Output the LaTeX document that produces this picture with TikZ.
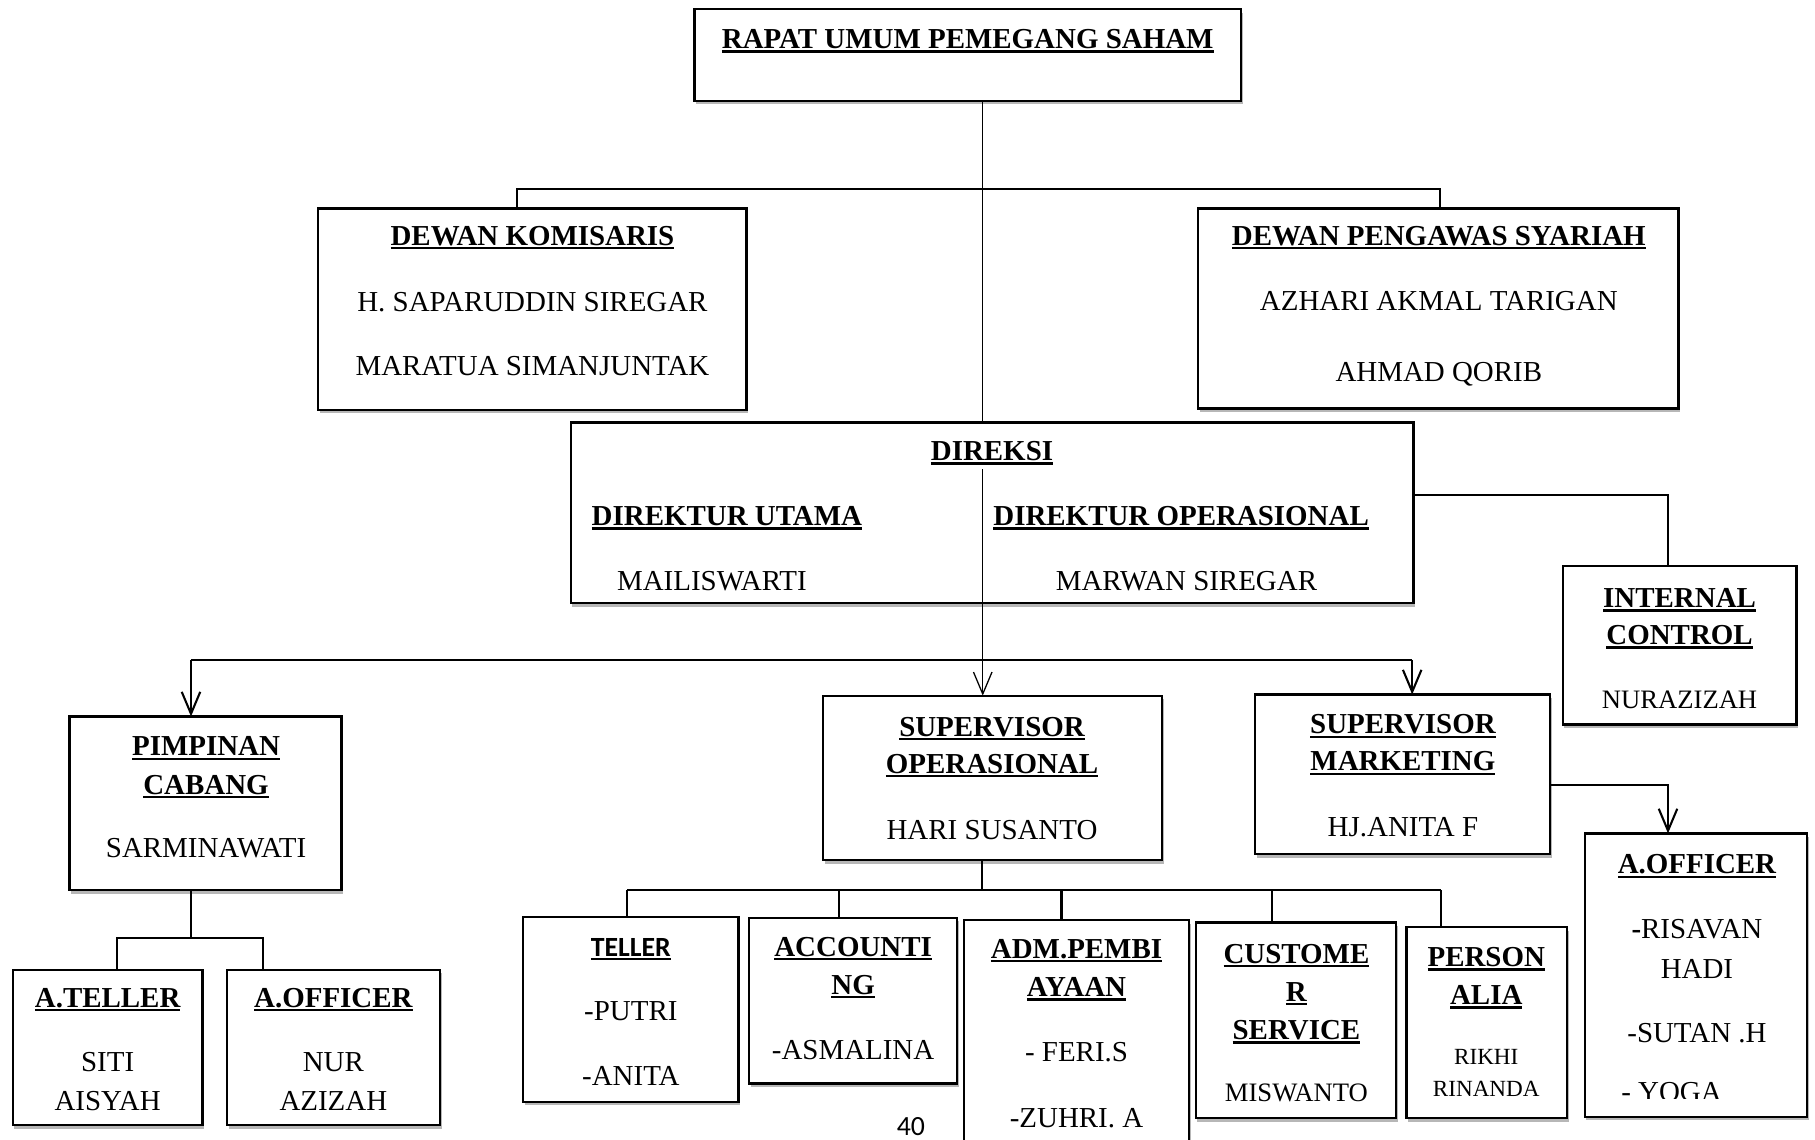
\documentclass[tikz,border=0pt]{standalone}
\usepackage{fontspec}
\setmainfont{Liberation Serif}
\newfontfamily\calfont{Carlito}
\usetikzlibrary{arrows.meta,shadows,calc}
\newcommand\uhd[1]{{\bfseries\setbox0\hbox{#1}\rlap{\rule[-0.14em]{\wd0}{0.08em}}\box0}}
\newcommand\orgbox[5]{\node[box, minimum width={#4-#2}, minimum height={#5-#3}] (#1) at (#2,#3) {};}
\tikzset{
  box/.style={draw, line width=2pt, fill=white, anchor=north west, inner sep=0pt, outer sep=0pt,
    drop shadow={shadow xshift=1.5pt, shadow yshift=-3pt, opacity=0.4, fill=black!70}},
  t/.style={anchor=base, inner sep=0pt, font=\fontsize{25}{30}\selectfont},
  tm/.style={anchor=base, inner sep=0pt, font=\fontsize{23}{28}\selectfont},
  tsm/.style={anchor=base, inner sep=0pt, font=\fontsize{20}{24}\selectfont},
  conn/.style={line width=1.8pt},
  spine/.style={line width=1.1pt},
  arr/.style={-{Straight Barb[length=19pt,width=16pt]}},
}
\begin{document}
\begin{tikzpicture}[x=1pt,y=-1pt]
\fill[white] (0,0) rectangle (1568,984);
\useasboundingbox (0,0) rectangle (1568,984);

% boxes
\orgbox{rups}{600}{8}{1072}{87}
\orgbox{dk}{275}{180}{645}{354}
\orgbox{dps}{1035}{180}{1450}{353}
\orgbox{dir}{493}{365}{1221}{521}
\orgbox{ic}{1350}{489}{1552}{626}
\orgbox{pc}{60}{619}{295}{769}
\orgbox{sop}{711}{601}{1004}{743}
\orgbox{smk}{1084}{600}{1339}{738}
\orgbox{aor}{1369}{720}{1561}{965}
\orgbox{atl}{11}{838}{175}{972}
\orgbox{aol}{196}{838}{380}{972}
\orgbox{tel}{452}{792}{638}{952}
\orgbox{acc}{647}{793}{827}{936}
\orgbox{adm}{833}{795}{1027}{1010}
\orgbox{cs}{1033}{797}{1206}{966}
\orgbox{per}{1215}{801}{1354}{966}

% coordinates
\coordinate (sx) at (849,0);
\coordinate (j1) at (447,163);
\coordinate (j2) at (1244,163);
\coordinate (k1) at (165,570);
\coordinate (k2) at (849,570);
\coordinate (k3) at (1220,570);
\coordinate (m1) at (1441,428);
\coordinate (n1) at (1441,678);
\coordinate (p0) at (165,810);
\coordinate (p1) at (101,810);
\coordinate (p2) at (227,810);
\coordinate (q0) at (848,769);
\coordinate (q1) at (542,769);
\coordinate (q2) at (725,769);
\coordinate (q3) at (917,769);
\coordinate (q4) at (1099,769);
\coordinate (q5) at (1245,769);

% connectors
\draw[conn] (dk.north -| j1) -- (j1) -- (j2) -- (dps.north -| j2);
\draw[spine,arr] (rups.south -| sx) -- (sop.north -| sx);
\draw[conn] (k1) -- (k3);
\draw[conn,arr] (k1) -- (pc.north -| k1);
\draw[conn,arr] (k3) -- (smk.north -| k3);
\draw[conn] (dir.east |- m1) -- (m1) -- (ic.north -| m1);
\draw[conn,arr] (smk.east |- n1) -- (n1) -- (aor.north -| n1);
\draw[conn] (pc.south -| p0) -- (p0);
\draw[conn] (atl.north -| p1) -- (p1) -- (p2) -- (aol.north -| p2);
\draw[conn] (sop.south -| q0) -- (q0);
\draw[conn] (q1) -- (q5);
\draw[conn] (q1) -- (tel.north -| q1);
\draw[conn] (q2) -- (acc.north -| q2);
\draw[conn] (q3) -- (adm.north -| q3);
\draw[conn] (q4) -- (cs.north -| q4);
\draw[conn] (q5) -- (per.north -| q5);

% texts
\node[t] (rups-1) at (836,42) {\uhd{RAPAT UMUM PEMEGANG SAHAM}};

\node[t] (dk-1) at (460,212) {\uhd{DEWAN KOMISARIS}};
\node[t] (dk-2) at (460,269) {H. SAPARUDDIN SIREGAR};
\node[t] (dk-3) at (460,324) {MARATUA SIMANJUNTAK};

\node[t] (dps-1) at (1243,212) {\uhd{DEWAN PENGAWAS SYARIAH}};
\node[t] (dps-2) at (1243,268) {AZHARI AKMAL TARIGAN};
\node[t] (dps-3) at (1243,330) {AHMAD QORIB};

\node[t, fill=white, text height=32pt, text depth=7pt] (dir-1) at (857,398) {\uhd{DIREKSI}};
\node[t, anchor=base west] (dir-2) at (511,454) {\uhd{DIREKTUR UTAMA}};
\node[t, anchor=base west] (dir-3) at (858,454) {\uhd{DIREKTUR OPERASIONAL}};
\node[t] (dir-4) at (615,510) {MAILISWARTI};
\node[t] (dir-5) at (1025,510) {MARWAN SIREGAR};

\node[t] (ic-1) at (1451,525) {\uhd{INTERNAL}};
\node[t] (ic-2) at (1451,557) {\uhd{CONTROL}};
\node[tm] (ic-3) at (1451,612) {NURAZIZAH};

\node[t] (pc-1) at (178,653) {\uhd{PIMPINAN}};
\node[t] (pc-2) at (178,686) {\uhd{CABANG}};
\node[t] (pc-3) at (178,741) {SARMINAWATI};

\node[t] (sop-1) at (857,636) {\uhd{SUPERVISOR}};
\node[t] (sop-2) at (857,668) {\uhd{OPERASIONAL}};
\node[t] (sop-3) at (857,725) {HARI SUSANTO};

\node[t] (smk-1) at (1212,634) {\uhd{SUPERVISOR}};
\node[t] (smk-2) at (1212,666) {\uhd{MARKETING}};
\node[t] (smk-3) at (1212,723) {HJ.ANITA F};

\node[t] (aor-1) at (1466,755) {\uhd{A.OFFICER}};
\node[t] (aor-2) at (1466,811) {{\bfseries -}RISAVAN};
\node[t] (aor-3) at (1466,845) {HADI};
\node[t] (aor-4) at (1466,901) {-SUTAN .H};
\begin{scope}
\clip (1372,920) rectangle (1558,949);
\node[t] (aor-5) at (1444,952) {- YOGA};
\end{scope}

\node[t] (atl-1) at (93,870) {\uhd{A.TELLER}};
\node[t] (atl-2) at (93,926) {SITI};
\node[t] (atl-3) at (93,959) {AISYAH};

\node[t] (aol-1) at (288,870) {\uhd{A.OFFICER}};
\node[t] (aol-2) at (288,926) {NUR};
\node[t] (aol-3) at (288,959) {AZIZAH};

\node[anchor=base, inner sep=0pt, font=\calfont\fontsize{24}{28}\selectfont] (tel-1) at (545,826) {\uhd{TELLER}};
\node[t] (tel-2) at (545,882) {-PUTRI};
\node[t] (tel-3) at (545,938) {-ANITA};

\node[t] (acc-1) at (737,826) {\uhd{ACCOUNTI}};
\node[t] (acc-2) at (737,859) {\uhd{NG}};
\node[t] (acc-3) at (737,915) {-ASMALINA};

\node[t] (adm-1) at (930,828) {\uhd{ADM.PEMBI}};
\node[t] (adm-2) at (930,861) {\uhd{AYAAN}};
\node[t] (adm-3) at (930,917) {- FERI.S};
\node[t] (adm-4) at (930,974) {-ZUHRI. A};

\node[t] (cs-1) at (1120,832) {\uhd{CUSTOME}};
\node[t] (cs-2) at (1120,865) {\uhd{R}};
\node[t] (cs-3) at (1120,898) {\uhd{SERVICE}};
\node[tm] (cs-4) at (1120,952) {MISWANTO};

\node[t] (per-1) at (1284,835) {\uhd{PERSON}};
\node[t] (per-2) at (1284,868) {\uhd{ALIA}};
\node[tsm] (per-3) at (1284,920) {RIKHI};
\node[tsm] (per-4) at (1284,947) {RINANDA};

\node[anchor=base, inner sep=0pt, font=\calfont\fontsize{24}{28}\selectfont] (pg) at (787,981) {40};
\end{tikzpicture}
\end{document}
